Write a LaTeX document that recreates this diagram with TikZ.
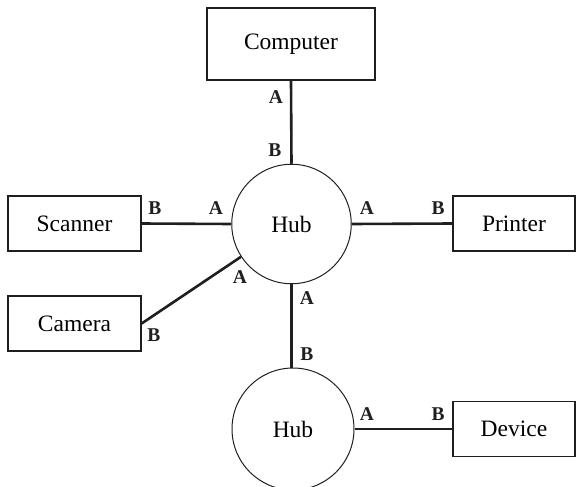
\documentclass[tikz,border=0pt]{standalone}
\usepackage{fontspec}
\setmainfont{Liberation Serif}
\begin{document}
\begin{tikzpicture}[x=1pt,y=-1pt,
  box/.style={draw=black!88,line width=1.3pt,minimum width=#1,inner sep=0pt,font=\fontsize{23.5}{26}\selectfont},
  hub/.style={draw=black!88,line width=1pt,circle,minimum size=#1,inner sep=0pt,font=\fontsize{23.5}{26}\selectfont},
  link/.style={line width=2.6pt,draw=black!88},
  lab/.style={font=\fontsize{19.5}{22}\selectfont\bfseries,inner sep=0pt,text=black!88}]
\useasboundingbox (0,0) rectangle (576,487);
\node[box=168pt,minimum height=72pt] (comp) at (291,44) {Computer};
\node[box=133pt,minimum height=55pt] (scan) at (74.5,223.5) {Scanner};
\node[box=133pt,minimum height=55pt] (cam) at (74.5,323.5) {Camera};
\node[box=122pt,minimum height=55pt] (prn) at (514,223.5) {Printer};
\node[box=122pt,minimum height=55pt] (dev) at (514,429) {Device};
\node[hub=119.5pt] (hub1) at (291.5,224) {Hub};
\node[hub=122pt] (hub2) at (293,429) {Hub};
\draw[link] (comp.south) -- (hub1.north);
\draw[link] (scan.east) -- (hub1.west);
\draw[link] (hub1.east) -- (prn.west);
\draw[link] (cam.east) -- (hub1.213);
\draw[link] (hub1.south) -- (hub1.south |- hub2.north);
\draw[link] (hub2.east) -- (dev.west);
\node[lab] (l1) at (276,97.5) {A};
\node[lab] (l2) at (275,150) {B};
\node[lab] (l3) at (155,208) {B};
\node[lab] (l4) at (216,208) {A};
\node[lab] (l5) at (367,208) {A};
\node[lab] (l6) at (438,208) {B};
\node[lab] (l7) at (240,277) {A};
\node[lab] (l8) at (154,335) {B};
\node[lab] (l9) at (307,298) {A};
\node[lab] (l10) at (307,354) {B};
\node[lab] (l11) at (367,414) {A};
\node[lab] (l12) at (438,414) {B};
\end{tikzpicture}
\end{document}
